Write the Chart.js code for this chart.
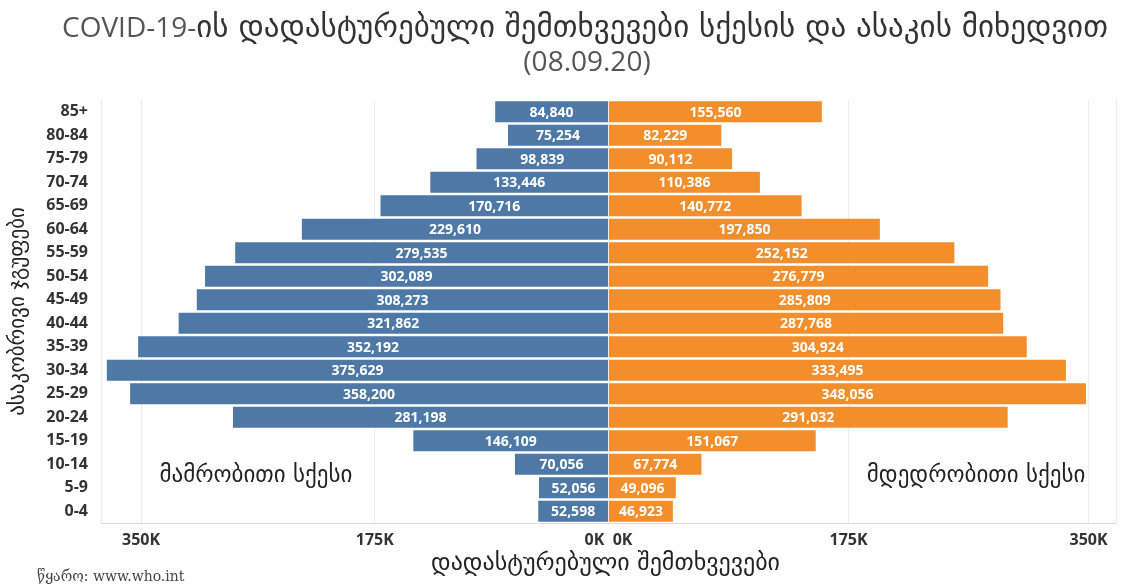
<!DOCTYPE html>
<html lang="ka">
<head>
<meta charset="utf-8">
<title>COVID-19 — სქესი და ასაკი</title>
<script src="https://cdn.jsdelivr.net/npm/chart.js@4.4.1/dist/chart.umd.min.js"></script>
<style>
  html, body { margin: 0; padding: 0; background: #fff; }
  #wrap { position: relative; width: 1124px; height: 586px; }
</style>
</head>
<body>
<div id="wrap"><canvas id="pyramid"></canvas></div>
<script>
// ასაკობრივი ჯგუფები (ზემოდან ქვემოთ)
const ageGroups = ['85+', '80-84', '75-79', '70-74', '65-69', '60-64', '55-59', '50-54', '45-49',
                   '40-44', '35-39', '30-34', '25-29', '20-24', '15-19', '10-14', '5-9', '0-4'];

const maleCases = [84840, 75254, 98839, 133446, 170716, 229610, 279535, 302089, 308273,
                   321862, 352192, 375629, 358200, 281198, 146109, 70056, 52056, 52598];

const femaleCases = [155560, 82229, 90112, 110386, 140772, 197850, 252152, 276779, 285809,
                     287768, 304924, 333495, 348056, 291032, 151067, 67774, 49096, 46923];

const leftTicks = [0, 175000, 350000];
const rightTicks = [0, 175000, 350000];
const leftMax = 380000;
const rightMax = 370000;

const titleLatin = 'COVID-19-';
const titleGeo = 'ის დადასტურებული შემთხვევები სქესის და ასაკის მიხედვით';
const titleDate = '(08.09.20)';
const yTitle = 'ასაკობრივი ჯგუფები';
const xTitle = 'დადასტურებული შემთხვევები';
const sexLabels = ['მამრობითი სქესი', 'მდედრობითი სქესი'];
const sourceText = 'წყარო: www.who.int';

const BLUE = '#4e79a7';
const ORANGE = '#f28e2b';
const LATIN_FONT = '"Open Sans", "DejaVu Sans", sans-serif';
const GEO_FONT = '"DejaVu Sans", sans-serif';

Chart.defaults.font.family = LATIN_FONT;

// თეთრი რიცხვები ზოლების შუაში
const barLabels = {
    id: 'barLabels',
    afterDatasetsDraw(chart) {
        const ctx = chart.ctx;
        ctx.save();
        ctx.font = 'bold 14px ' + LATIN_FONT;
        ctx.fillStyle = '#ffffff';
        ctx.textAlign = 'center';
        ctx.textBaseline = 'middle';
        chart.data.datasets.forEach((ds, i) => {
            chart.getDatasetMeta(i).data.forEach((bar, j) => {
                ctx.fillText(ds.data[j].toLocaleString('en-US'), (bar.x + bar.base) / 2, bar.y + 1);
            });
        });
        ctx.restore();
    }
};

// სათაური (ლათინური და ქართული ნაწილი სხვადასხვა ზომით), სქესის წარწერები, ღერძის სათაური და წყარო
const extraText = {
    id: 'extraText',
    afterDraw(chart) {
        const { ctx, scales } = chart;
        ctx.save();
        ctx.textBaseline = 'middle';

        // სათაური
        const latinFont = '28px ' + LATIN_FONT;
        const geoFont = '31px ' + GEO_FONT;
        ctx.font = latinFont;
        const wLatin = ctx.measureText(titleLatin).width;
        ctx.font = geoFont;
        const wGeo = ctx.measureText(titleGeo).width;
        let tx = 585 - (wLatin + wGeo) / 2;
        ctx.textAlign = 'left';
        ctx.font = latinFont;
        ctx.fillStyle = '#555';
        ctx.fillText(titleLatin, tx, 29);
        ctx.font = geoFont;
        ctx.fillStyle = '#333';
        ctx.fillText(titleGeo, tx + wLatin, 29);
        ctx.textAlign = 'center';
        ctx.font = '28px ' + LATIN_FONT;
        ctx.fillStyle = '#555';
        ctx.fillText(titleDate, 587, 63);

        // სქესის წარწერები
        const rowY = scales.y.getPixelForValue(15.5);
        ctx.fillStyle = '#222';
        ctx.font = '23px ' + GEO_FONT;
        ctx.fillText(sexLabels[0], scales.xL.getPixelForValue(264000), rowY);
        ctx.fillText(sexLabels[1], scales.xR.getPixelForValue(268000), rowY);

        // X ღერძის სათაური
        ctx.font = '24px ' + GEO_FONT;
        ctx.fillText(xTitle, scales.xL.right - 3, 564);

        // წყარო
        ctx.font = '14px "DejaVu Serif", "Liberation Serif", serif';
        ctx.textAlign = 'left';
        ctx.fillStyle = '#444';
        ctx.fillText(sourceText, 37, 577);
        ctx.restore();
    }
};

function sideAxis(ticks, max, reverse) {
    return {
        type: 'linear',
        position: 'bottom',
        stack: 'cases',
        stackWeight: 1,
        reverse: reverse,
        min: 0,
        max: max,
        afterBuildTicks: s => { s.ticks = ticks.concat([max]).map(v => ({ value: v })); },
        afterFit: s => { s.height = 63; },
        grid: { color: '#ececec', drawTicks: false },
        border: { color: '#dadada' },
        ticks: {
            align: 'inner',
            padding: 8,
            maxRotation: 0,
            color: '#333',
            font: { size: 16, weight: 'bold' },
            callback: v => {
                if (v >= max) return '';
                if (v === 0) return reverse ? '0K ' : ' 0K';
                return (v / 1000) + 'K';
            }
        }
    };
}

new Chart(document.getElementById('pyramid'), {
    type: 'bar',
    data: {
        labels: ageGroups,
        datasets: [
            {
                label: 'მამრობითი',
                data: maleCases,
                xAxisID: 'xL',
                backgroundColor: BLUE,
                grouped: false,
                categoryPercentage: 0.9,
                barPercentage: 1
            },
            {
                label: 'მდედრობითი',
                data: femaleCases,
                xAxisID: 'xR',
                backgroundColor: ORANGE,
                grouped: false,
                categoryPercentage: 0.9,
                barPercentage: 1
            }
        ]
    },
    options: {
        indexAxis: 'y',
        responsive: true,
        maintainAspectRatio: false,
        animation: false,
        layout: { padding: { left: 0, right: 3, top: 100, bottom: 0 } },
        plugins: {
            legend: { display: false }
        },
        scales: {
            y: {
                position: 'left',
                grid: { display: false },
                border: { display: false },
                afterFit: s => { s.width = 101; },
                ticks: { color: '#333', padding: 5, font: { size: 16, weight: 'bold' } },
                title: {
                    display: true,
                    text: yTitle,
                    color: '#222',
                    font: { size: 21, family: GEO_FONT },
                    padding: { top: 6, bottom: 0 }
                }
            },
            xL: sideAxis(leftTicks, leftMax, true),
            xR: sideAxis(rightTicks, rightMax, false)
        }
    },
    plugins: [barLabels, extraText]
});
</script>
</body>
</html>
